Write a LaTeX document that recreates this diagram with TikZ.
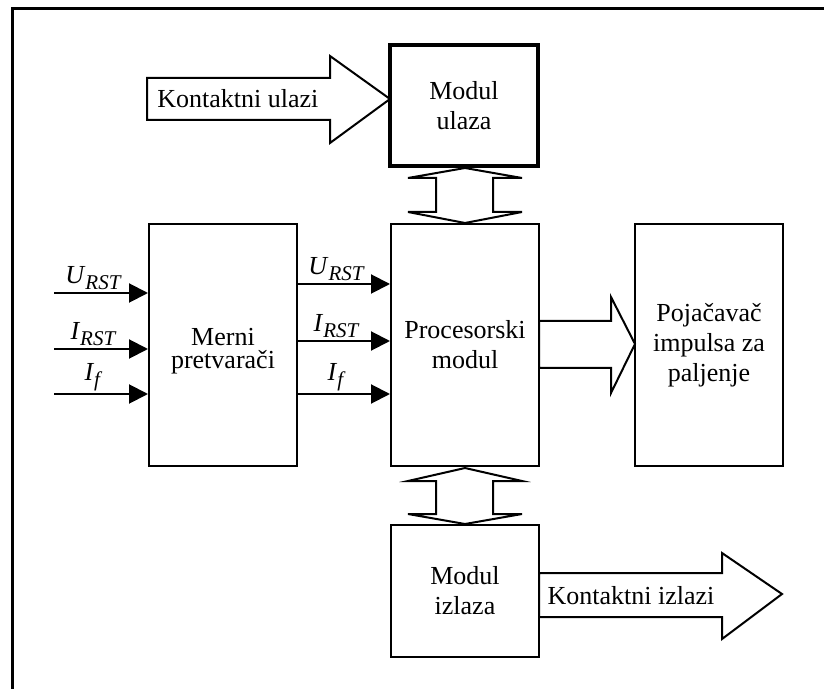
\documentclass[tikz,border=0pt]{standalone}
\usepackage{fontspec}
\setmainfont{Liberation Serif}
\usetikzlibrary{arrows.meta}

\newcommand{\sgn}[2]{\textit{#1}\raisebox{-3pt}{\fontsize{10.5}{12}\selectfont\textit{#2}}}

\begin{document}
\begin{tikzpicture}[x=0.5pt, y=-0.5pt, every node/.style={font=\fontsize{13}{15}\selectfont},
	blk/.style={draw, line width=1pt, minimum width=74pt, align=center, inner sep=0pt},
	sig/.style={line width=1pt, -{Triangle[length=9.5pt, width=9.5pt]}},
	hol/.style={draw, line width=1pt, line join=miter, fill=white},
	lbl/.style={above, pos=0.42, inner sep=1pt}]
	\useasboundingbox (0,0) rectangle (824,689);
	\draw[line width=1.5pt] (12,689) -- (12,9) -- (824,9);
	% blocks
	\node[blk, line width=1.6pt, minimum height=60.5pt] (mu) at (464,105.5) {Modul\\ulaza};
	\node[blk, minimum height=121pt] (mp) at (223,345) {\rule{0pt}{15pt}Merni\\[-3.5pt]pretvarači};
	\node[blk, minimum height=121pt] (pm) at (465,345) {Procesorski\\modul};
	\node[blk, minimum height=121pt] (pi) at (709,345) {Pojačavač\\impulsa za\\paljenje};
	\node[blk, minimum height=66pt] (mi) at (465,591) {Modul\\izlaza};
	% hollow arrows
	\draw[hol] (147,78) -- (330,78) -- (330,56) -- (390,99) -- (330,143) -- (330,120) -- (147,120) -- cycle;
	\node[anchor=west, inner sep=0pt] (ku) at (157,99) {Kontaktni ulazi};
	\draw[hol] (539,321) -- (611,321) -- (611,297) -- (635,344) -- (611,393) -- (611,368) -- (539,368) -- cycle;
	\draw[hol] (539,573) -- (722,573) -- (722,553) -- (782,594) -- (722,639) -- (722,617) -- (539,617) -- cycle;
	\node[inner sep=0pt] (ki) at (631,596) {Kontaktni izlazi};
	\draw[hol] (465,168) -- (522,178) -- (493,178) -- (493,212) -- (522,212) -- (465,223) -- (408,212) -- (436,212) -- (436,178) -- (408,178) -- cycle;
	\draw[hol] (465,468) -- (522,481) -- (493,481) -- (493,514) -- (522,514) -- (465,524) -- (408,514) -- (436,514) -- (436,481) -- (408,481) -- cycle;
	% measured signals
	\coordinate (in1) at (54,293); \coordinate (in2) at (54,349); \coordinate (in3) at (54,394);
	\draw[sig] (in1) -- (in1 -| mp.west) node[lbl] {\sgn{U}{RST}};
	\draw[sig] (in2) -- (in2 -| mp.west) node[lbl] {\sgn{I}{RST}};
	\draw[sig] (in3) -- (in3 -| mp.west) node[lbl] {\sgn{I}{f}};
	\coordinate (out1) at (0,284); \coordinate (out2) at (0,341); \coordinate (out3) at (0,394);
	\draw[sig] (out1 -| mp.east) -- (out1 -| pm.west) node[lbl] {\sgn{U}{RST}};
	\draw[sig] (out2 -| mp.east) -- (out2 -| pm.west) node[lbl] {\sgn{I}{RST}};
	\draw[sig] (out3 -| mp.east) -- (out3 -| pm.west) node[lbl] {\sgn{I}{f}};
\end{tikzpicture}
\end{document}
